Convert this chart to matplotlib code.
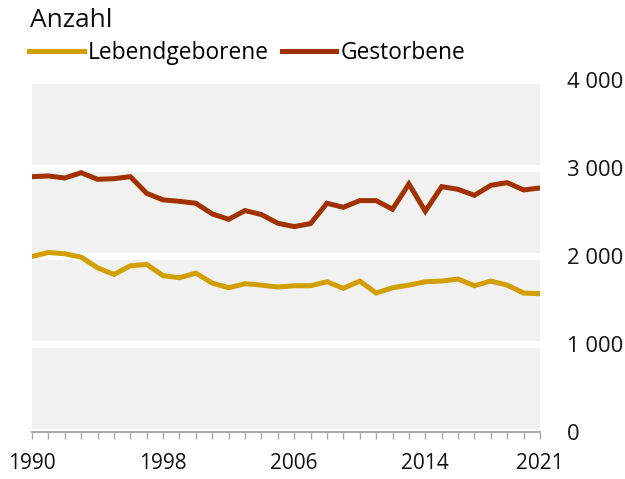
import matplotlib.pyplot as plt
from matplotlib.ticker import FixedLocator, FuncFormatter

plt.rcParams['font.family'] = ['Open Sans', 'DejaVu Sans']

years = list(range(1990, 2022))
lebendgeborene = [1994, 2040, 2025, 1987, 1866, 1790, 1888, 1904, 1776, 1753,
                  1805, 1692, 1639, 1685, 1669, 1647, 1662, 1662, 1707, 1632,
                  1715, 1579, 1639, 1669, 1707, 1715, 1738, 1662, 1715, 1669,
                  1579, 1571]
gestorbene = [2901, 2909, 2886, 2946, 2871, 2878, 2901, 2712, 2637, 2621,
              2599, 2478, 2417, 2516, 2470, 2372, 2334, 2368, 2599, 2553,
              2629, 2629, 2531, 2818, 2508, 2788, 2757, 2689, 2803, 2833,
              2750, 2773]
year_labels = [1990, 1998, 2006, 2014, 2021]
y_ticks = [0, 1000, 2000, 3000, 4000]

col_geb = '#d19f00'
col_gest = '#a03200'

fig = plt.figure(figsize=(6.25, 4.79), dpi=100)
ax = fig.add_axes([0.0512, 0.0981, 0.8128, 0.735])
ax.set_facecolor('#f1f1f1')

l1, = ax.plot(years, lebendgeborene, color=col_geb, lw=3.6,
              solid_joinstyle='miter', label='Lebendgeborene')
l2, = ax.plot(years, gestorbene, color=col_gest, lw=3.6,
              solid_joinstyle='miter', label='Gestorbene')

ax.set_xlim(1990, 2021)
ax.set_ylim(0, 4000)

# weiße Gitterlinien
ax.set_axisbelow(True)
ax.yaxis.set_major_locator(FixedLocator(y_ticks))
ax.grid(axis='y', color='white', lw=5)
ax.yaxis.tick_right()
ax.yaxis.set_major_formatter(FuncFormatter(lambda v, p: f'{int(v):,}'.replace(',', ' ')))
ax.tick_params(axis='y', length=0, pad=19.5, labelsize=15.8, labelcolor='#111111')

ax.xaxis.set_major_locator(FixedLocator(year_labels))
ax.xaxis.set_minor_locator(FixedLocator(years))
ax.tick_params(axis='x', which='both', length=5, width=1, color='#aaaaaa',
               labelsize=15, pad=10, labelcolor='#111111')

for s in ['top', 'left', 'right']:
    ax.spines[s].set_visible(False)
ax.spines['bottom'].set_color('#aaaaaa')
ax.spines['bottom'].set_linewidth(1.5)
ax.spines['bottom'].set_zorder(3)

fig.text(0.048, 0.957, 'Anzahl', fontsize=19, color='#111111',
         ha='left', va='center')
fig.legend(handles=[l1, l2], loc='center left', bbox_to_anchor=(0.0464, 0.889),
           ncol=2, frameon=False, fontsize=16.4, handlelength=2.4,
           handletextpad=0.18, columnspacing=0.57, borderaxespad=0, borderpad=0)

fig.savefig('out.png', dpi=100)
